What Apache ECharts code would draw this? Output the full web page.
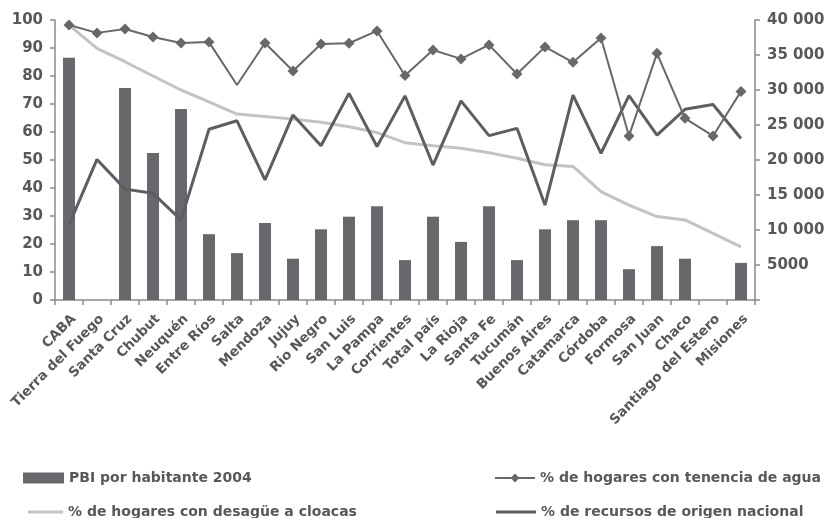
<!DOCTYPE html>
<html>
<head>
<meta charset="utf-8">
<script src="https://cdn.jsdelivr.net/npm/echarts@6/dist/echarts.min.js"></script>
<style>
  html, body { margin: 0; padding: 0; background: #fff; }
  #chart { width: 832px; height: 518px; }
</style>
</head>
<body>
<div id="chart"></div>
<script>
const provincias = ["CABA", "Tierra del Fuego", "Santa Cruz", "Chubut", "Neuquén", "Entre Ríos", "Salta", "Mendoza", "Jujuy", "Rio Negro", "San Luis", "La Pampa", "Corrientes", "Total país", "La Rioja", "Santa Fe", "Tucumán", "Buenos Aires", "Catamarca", "Córdoba", "Formosa", "San Juan", "Chaco", "Santiago del Estero", "Misiones"]

// PBI por habitante 2004 (eje derecho)
const pbi = [34600, null, 30300, 21000, 27300, 9400, 6700, 11000, 5900, 10100, 11900, 13400, 5700, 11900, 8300, 13400, 5700, 10100, 11400, 11400, 4400, 7700, 5900, null, 5300]
// % de hogares con tenencia de agua
const agua = [98.2, 95.4, 96.8, 93.9, 91.8, 92.1, 76.8, 91.8, 81.8, 91.4, 91.7, 96.1, 80.2, 89.3, 86.1, 91.1, 80.7, 90.4, 84.9, 93.6, 58.6, 88.1, 64.9, 58.6, 74.5]
// % de hogares con desagüe a cloacas
const cloacas = [98.2, 89.9, 85.1, 80, 75, 70.8, 66.4, 65.5, 64.6, 63.5, 61.9, 59.8, 56.2, 55.1, 54.2, 52.6, 50.6, 48.3, 47.7, 38.7, 33.9, 29.8, 28.6, 23.8, 19]
// % de recursos de origen nacional
const recursos = [26.8, 50.2, 39.6, 38.1, 28.6, 61, 64, 42.9, 66.1, 55.1, 73.8, 54.8, 72.9, 48.2, 71.1, 58.7, 61.3, 33.9, 73.2, 52.4, 73, 58.9, 68.1, 69.8, 57.7]

const names = ["PBI por habitante 2004", "% de hogares con tenencia de agua", "% de hogares con desagüe a cloacas", "% de recursos de origen nacional"]

const txt = "#58585c"
const axisCol = "#8a8a8e"

var myChart = echarts.init(document.getElementById("chart"))

const legendText = { fontFamily: "DejaVu Sans", fontWeight: "bold", fontSize: 14, color: "#58585c" }

var option = {
  animation: false,
  grid: { left: 55, right: 77, top: 20, bottom: 218 },
  legend: [
    { data: [{ name: names[0], icon: "rect" }], left: 18, top: 466, itemWidth: 41, itemHeight: 11, textStyle: legendText },
    { data: [{ name: names[2], icon: "rect" }], left: 23, top: 500, itemWidth: 35, itemHeight: 3, textStyle: legendText },
    { data: [names[1]], left: 489, top: 466, itemWidth: 40, itemHeight: 11, textStyle: legendText },
    { data: [{ name: names[3], icon: "rect" }], left: 491, top: 500, itemWidth: 40, itemHeight: 3, textStyle: legendText }
  ],
  xAxis: {
    type: "category",
    data: provincias,
    axisLine: { lineStyle: { color: axisCol, width: 1.5 } },
    axisTick: { show: true, length: 5, alignWithLabel: false, lineStyle: { color: axisCol, width: 1.5 } },
    axisLabel: {
      interval: 0, rotate: 45, margin: 12, verticalAlign: "top",
      fontFamily: "DejaVu Sans", fontWeight: "bold", fontSize: 13.5, color: txt
    }
  },
  yAxis: [
    {
      type: "value", min: 0, max: 100, interval: 10,
      splitLine: { show: false },
      axisLine: { show: true, lineStyle: { color: axisCol, width: 1.5 } },
      axisTick: { show: true, length: 5, lineStyle: { color: axisCol, width: 1.5 } },
      axisLabel: { fontFamily: "DejaVu Sans", fontWeight: "bold", fontSize: 15, color: txt, margin: 12 }
    },
    {
      type: "value", min: 0, max: 40000, interval: 5000,
      position: "right",
      splitLine: { show: false },
      axisLine: { show: true, lineStyle: { color: axisCol, width: 1.5 } },
      axisTick: { show: true, length: 5, lineStyle: { color: axisCol, width: 1.5 } },
      axisLabel: {
        fontFamily: "DejaVu Sans", fontWeight: "bold", fontSize: 15, color: txt, margin: 12,
        formatter: (v) => {
          if (v === 0) return ""
          if (v < 10000) return String(v)
          return String(v).replace(/\B(?=(\d{3})+(?!\d))/g, " ")
        }
      }
    }
  ],
  series: [
    {
      name: names[0],
      type: "bar",
      yAxisIndex: 1,
      data: pbi,
      barWidth: 12,
      itemStyle: { color: "#68686c" }
    },
    {
      name: names[2],
      type: "line",
      data: cloacas,
      symbol: "none",
      lineStyle: { color: "#c3c3c5", width: 3 },
      itemStyle: { color: "#c3c3c5" }
    },
    {
      name: names[3],
      type: "line",
      data: recursos,
      symbol: "none",
      lineStyle: { color: "#5e5e62", width: 3 },
      itemStyle: { color: "#5e5e62" }
    },
    {
      name: names[1],
      type: "line",
      // Salta no tiene marcador en el original
      data: agua.map((v, i) => (i === 6 ? { value: v, symbol: "none" } : v)),
      symbol: "diamond",
      symbolSize: 11,
      lineStyle: { color: "#68686c", width: 2 },
      itemStyle: { color: "#68686c" }
    }
  ]
}

myChart.setOption(option)
</script>
</body>
</html>
